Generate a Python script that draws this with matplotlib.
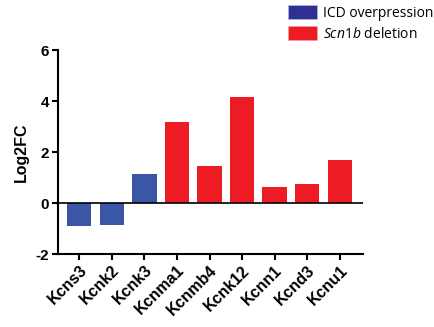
import matplotlib
matplotlib.use("Agg")
import matplotlib.pyplot as plt
from matplotlib.patches import Patch

plt.rcParams["mathtext.fontset"] = "custom"
plt.rcParams["mathtext.it"] = "Open Sans:italic"
plt.rcParams["mathtext.rm"] = "Open Sans"

genes = ["Kcns3", "Kcnk2", "Kcnk3", "Kcnma1", "Kcnmb4", "Kcnk12", "Kcnn1", "Kcnd3", "Kcnu1"]
log2fc = [-0.89, -0.86, 1.15, 3.19, 1.46, 4.17, 0.65, 0.76, 1.70]
groups = ["ICD", "ICD", "ICD", "Scn1b", "Scn1b", "Scn1b", "Scn1b", "Scn1b", "Scn1b"]
yticks = [-2, 0, 2, 4, 6]

bar_colors = {"ICD": "#3a56a5", "Scn1b": "#ed1c24"}
legend_colors = {"ICD": "#2e3192", "Scn1b": "#ed1c24"}

fig = plt.figure(figsize=(4.35, 3.27), dpi=100)
ax = fig.add_axes([57.7/435, 1-254.3/327, (363.3-57.7)/435, (254.3-50)/327])

x = list(range(len(genes)))
ax.bar(x, log2fc, width=0.75, color=[bar_colors[g] for g in groups], zorder=2)
ax.axhline(0, color="black", lw=1.2, zorder=3)

ax.set_xlim(-0.66, 8.72)
ax.set_ylim(-2, 6)
ax.set_yticks(yticks)
ax.set_yticklabels([str(v) for v in yticks], fontfamily="Liberation Sans", fontweight="bold", fontsize=11)
ax.set_xticks(x)
ax.set_xticklabels(genes, rotation=45, ha="right", rotation_mode="anchor",
                   fontfamily="Liberation Sans", fontweight="bold", fontsize=11.5)
ax.set_ylabel("Log2FC", fontfamily="Liberation Sans", fontweight="bold", fontsize=11.5, labelpad=5)

for s in ["top", "right"]:
    ax.spines[s].set_visible(False)
for s in ["left", "bottom"]:
    ax.spines[s].set_linewidth(1.5)
ax.tick_params(axis="both", width=1.5, length=4, direction="out", pad=2)

handles = [Patch(facecolor=legend_colors["ICD"], edgecolor="#b0b8e0", lw=0.5),
           Patch(facecolor=legend_colors["Scn1b"], edgecolor="#f5a0a0", lw=0.5)]
labels = ["ICD overpression", r"$\mathit{Scn1b}$ deletion"]
fig.legend(handles, labels, loc="upper left", bbox_to_anchor=(287.7/435, 1-5/327),
           frameon=False, borderpad=0, borderaxespad=0, handlelength=2.1, handleheight=1.15,
           handletextpad=0.45, labelspacing=0.4,
           prop={"family": "Open Sans", "size": 10})

fig.savefig("out.png", dpi=100)
